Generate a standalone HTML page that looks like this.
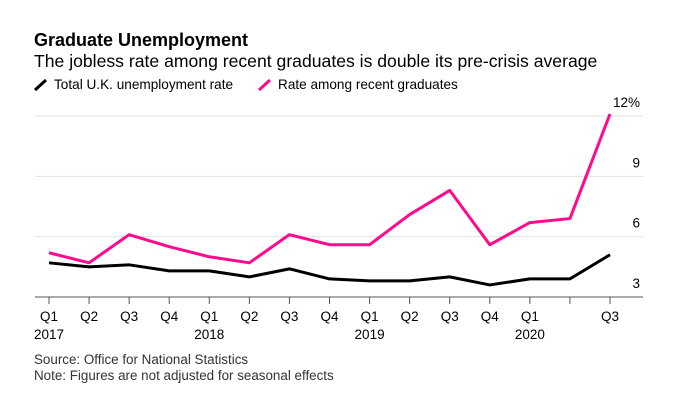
<!DOCTYPE html>
<html><head><meta charset="utf-8"><style>
body{margin:0;background:#fff;width:677px;height:400px;overflow:hidden;font-family:"Liberation Sans",sans-serif}
</style></head><body>
<svg width="677" height="400" style="position:absolute;left:0;top:0">
<text x="34" y="46" font-size="18" font-weight="bold" fill="#000">Graduate Unemployment</text>
<text x="34" y="67" font-size="17.6" fill="#000">The jobless rate among recent graduates is double its pre-crisis average</text>
<g>
<line x1="35" y1="90" x2="46" y2="80" stroke="#000" stroke-width="3"/>
<text x="54" y="89" font-size="13.6">Total U.K. unemployment rate</text>
<line x1="259" y1="90" x2="270" y2="80" stroke="#ff0a8c" stroke-width="3"/>
<text x="278" y="89" font-size="13.6">Rate among recent graduates</text>
</g>
<g id="grid"></g><g id="xaxis"></g><g id="lines"></g>
<text x="34" y="364" font-size="13.4" fill="#333">Source: Office for National Statistics</text>
<text x="34" y="380" font-size="13.4" fill="#333">Note: Figures are not adjusted for seasonal effects</text>
</svg>
<script>
const quarters=["Q1","Q2","Q3","Q4","Q1","Q2","Q3","Q4","Q1","Q2","Q3","Q4","Q1","","Q3"];
const years=["2017","","","","2018","","","","2019","","","","2020","",""];
const totalRate=[4.7,4.5,4.6,4.3,4.3,4.0,4.4,3.9,3.8,3.8,4.0,3.6,3.9,3.9,5.1];
const gradRate=[5.2,4.7,6.1,5.5,5.0,4.7,6.1,5.6,5.6,7.1,8.3,5.6,6.7,6.9,12.1];
const yTicks=[3,6,9,12];
const yTickLabels=["3","6","9","12%"];
const NS="http://www.w3.org/2000/svg";
const x=i=>49+i*(610-49)/(quarters.length-1);
const y=v=>297-(v-3)*(297-116)/9;
function mk(t,a,p){const e=document.createElementNS(NS,t);for(const k in a)e.setAttribute(k,a[k]);p.appendChild(e);return e;}
const g=document.getElementById('grid');
yTicks.forEach((v,i)=>{
 if(v>3){const l=mk('line',{x1:35,x2:643,y1:y(v),y2:y(v),stroke:'#e2e2e2','stroke-width':1},g);
 
 }
 const t=mk('text',{x:640,y:y(v)-9,'font-size':13.5,'text-anchor':'end'},g);t.textContent=yTickLabels[i];
 
 
});
const xa=document.getElementById('xaxis');
const ax=mk('line',{x1:35,x2:643,y1:297,y2:297,stroke:'#555','stroke-width':1},xa);


quarters.forEach((q,i)=>{
 const tk=mk('line',{x1:x(i),x2:x(i),y1:297,y2:304,stroke:'#555'},xa);
 
 
 if(q){const t=mk('text',{x:x(i),y:321,'font-size':13.5,'text-anchor':'middle'},xa);t.textContent=q;
 
 }
 if(years[i]){const t=mk('text',{x:x(i),y:339,'font-size':13.5,'text-anchor':'middle'},xa);t.textContent=years[i];
 
 }
});
const L=document.getElementById('lines');
const p1=mk('polyline',{points:totalRate.map((v,i)=>x(i)+','+y(v)).join(' '),fill:'none',stroke:'#000','stroke-width':3,'stroke-linejoin':'round'},L);


const p2=mk('polyline',{points:gradRate.map((v,i)=>x(i)+','+y(v)).join(' '),fill:'none',stroke:'#ff0a8c','stroke-width':3,'stroke-linejoin':'round'},L);


</script>
</body></html>
